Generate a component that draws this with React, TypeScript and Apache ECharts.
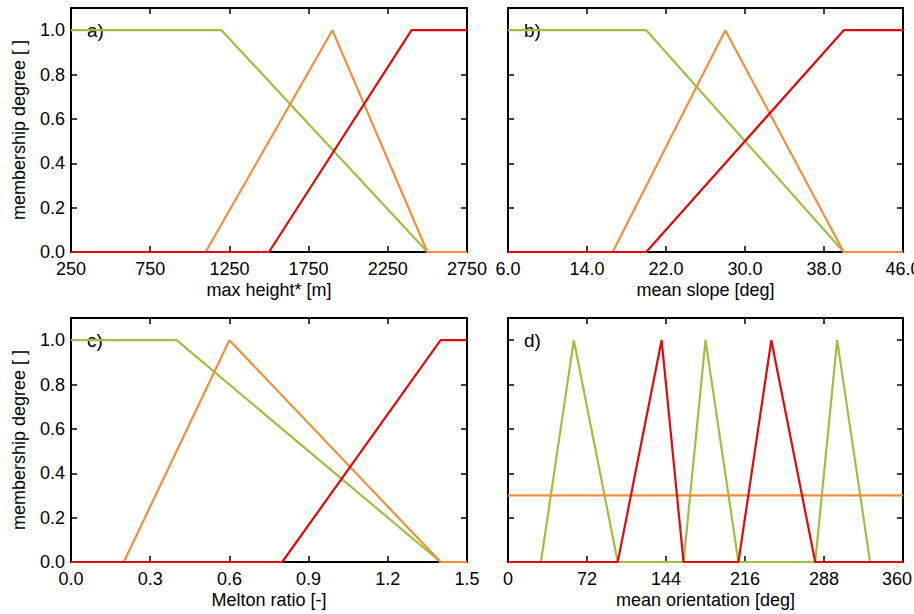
import React, { useEffect, useRef } from "react";
import * as echarts from "echarts";

const GREEN = "#a0bf3e";
const ORANGE = "#f28e3c";
const RED = "#e00a0a";

// Panel a: max height* [m]
const aTicks = [250, 750, 1250, 1750, 2250, 2750];
const aGreen = [[250, 1], [1200, 1], [2500, 0], [2750, 0]];
const aOrange = [[250, 0], [1100, 0], [1900, 1], [2500, 0], [2750, 0]];
const aRed = [[250, 0], [1500, 0], [2400, 1], [2750, 1]];

// Panel b: mean slope [deg]
const bTicks = [6, 14, 22, 30, 38, 46];
const bGreen = [[6, 1], [20, 1], [40, 0], [46, 0]];
const bOrange = [[6, 0], [16.6, 0], [28, 1], [40, 0], [46, 0]];
const bRed = [[6, 0], [20, 0], [40, 1], [46, 1]];

// Panel c: Melton ratio [-]
const cTicks = [0, 0.3, 0.6, 0.9, 1.2, 1.5];
const cGreen = [[0, 1], [0.4, 1], [1.4, 0], [1.5, 0]];
const cOrange = [[0, 0], [0.2, 0], [0.6, 1], [1.4, 0], [1.5, 0]];
const cRed = [[0, 0], [0.8, 0], [1.4, 1], [1.5, 1]];

// Panel d: mean orientation [deg]
const dTicks = [0, 72, 144, 216, 288, 360];
const dGreen = [[0, 0], [30, 0], [60, 1], [100, 0], [160, 0], [180, 1], [210, 0], [280, 0], [300, 1], [330, 0], [360, 0]];
const dOrange = [[0, 0.3], [360, 0.3]];
const dRed = [[0, 0], [100, 0], [140, 1], [160, 0], [210, 0], [240, 1], [280, 0], [360, 0]];

const yTicks = [0, 0.2, 0.4, 0.6, 0.8, 1.0];
const yLabel = "membership degree [ ]";

const panels = [
  { label: "a)", name: "max height* [m]", min: 250, max: 2750, ticks: aTicks, fmt: (v: number) => String(Math.round(v)), green: aGreen, orange: aOrange, red: aRed, yLabels: true },
  { label: "b)", name: "mean slope [deg]", min: 6, max: 46, ticks: bTicks, fmt: (v: number) => v.toFixed(1), green: bGreen, orange: bOrange, red: bRed, yLabels: false },
  { label: "c)", name: "Melton ratio [-]", min: 0, max: 1.5, ticks: cTicks, fmt: (v: number) => v.toFixed(1), green: cGreen, orange: cOrange, red: cRed, yLabels: true },
  { label: "d)", name: "mean orientation [deg]", min: 0, max: 360, ticks: dTicks, fmt: (v: number) => (v === 360 ? "{m|360}" : String(Math.round(v))), green: dGreen, orange: dOrange, red: dRed, yLabels: false },
];

const grids = [
  { left: 71, top: 8, width: 396, height: 244 },
  { left: 508, top: 8, width: 395, height: 244 },
  { left: 71, top: 318, width: 396, height: 244 },
  { left: 508, top: 318, width: 395, height: 244 },
];

const FONT = "Liberation Sans";

export default function App() {
  const ref = useRef<HTMLDivElement>(null);
  useEffect(() => {
    if (!ref.current) return;
    const chart = echarts.init(ref.current, null, { renderer: "svg" });
    const axisLine = { show: true, onZero: false, lineStyle: { color: "#000", width: 2 } };
    const tickStyle = { show: true, inside: true, length: 6, lineStyle: { color: "#000", width: 1.5 } };
    const xAxis: any[] = [];
    const yAxis: any[] = [];
    const series: any[] = [];
    panels.forEach((p, i) => {
      xAxis.push({
        type: "value", gridIndex: i, position: "bottom", min: p.min, max: p.max,
        axisLine, splitLine: { show: false },
        axisTick: { ...tickStyle, customValues: p.ticks },
        axisLabel: {
          show: true, customValues: p.ticks, formatter: p.fmt, color: "#000", fontSize: 18, fontFamily: FONT, margin: 8,
          rich: { m: { fontSize: 18, fontFamily: FONT, color: "#000", padding: [0, 12, 0, 0] } },
        },
        name: p.name, nameLocation: "middle", nameGap: 29,
        nameTextStyle: { color: "#000", fontSize: 18, fontFamily: FONT },
      });
      yAxis.push({
        type: "value", gridIndex: i, position: "left", min: 0, max: 1.1,
        axisLine, splitLine: { show: false },
        axisTick: { ...tickStyle, customValues: yTicks },
        axisLabel: { show: p.yLabels, customValues: yTicks, formatter: (v: number) => v.toFixed(1), color: "#000", fontSize: 18, fontFamily: FONT, margin: 6 },
        name: p.yLabels ? yLabel : "", nameLocation: "middle", nameGap: 43,
        nameTextStyle: { color: "#000", fontSize: 18, fontFamily: FONT },
      });
    });
    panels.forEach((p, i) => {
      xAxis.push({
        type: "value", gridIndex: i, position: "top", min: p.min, max: p.max,
        axisLine, splitLine: { show: false },
        axisTick: { ...tickStyle, customValues: p.ticks },
        axisLabel: { show: false },
      });
      yAxis.push({
        type: "value", gridIndex: i, position: "right", min: 0, max: 1.1,
        axisLine, splitLine: { show: false },
        axisTick: { ...tickStyle, customValues: yTicks },
        axisLabel: { show: false },
      });
    });
    panels.forEach((p, i) => {
      const mk = (data: number[][], color: string) => ({
        type: "line", xAxisIndex: i, yAxisIndex: i, data, symbol: "none", showSymbol: false,
        lineStyle: { color, width: 2.2 }, itemStyle: { color }, silent: true,
      });
      series.push(mk(p.green, GREEN), mk(p.orange, ORANGE), mk(p.red, RED));
    });
    const graphic = panels.map((p, i) => ({
      type: "text",
      left: grids[i].left + 16,
      top: grids[i].top + 13,
      style: { text: p.label, fontSize: 19, fontFamily: FONT, fill: "#000" },
    }));
    chart.setOption({
      animation: false,
      backgroundColor: "#fff",
      grid: grids.map((g) => ({ ...g, containLabel: false, outerBoundsMode: "none" })),
      xAxis,
      yAxis,
      series,
      graphic,
    });
    return () => chart.dispose();
  }, []);
  return <div ref={ref} style={{ position: "fixed", left: 0, top: 0, width: 914, height: 614 }} />;
}
